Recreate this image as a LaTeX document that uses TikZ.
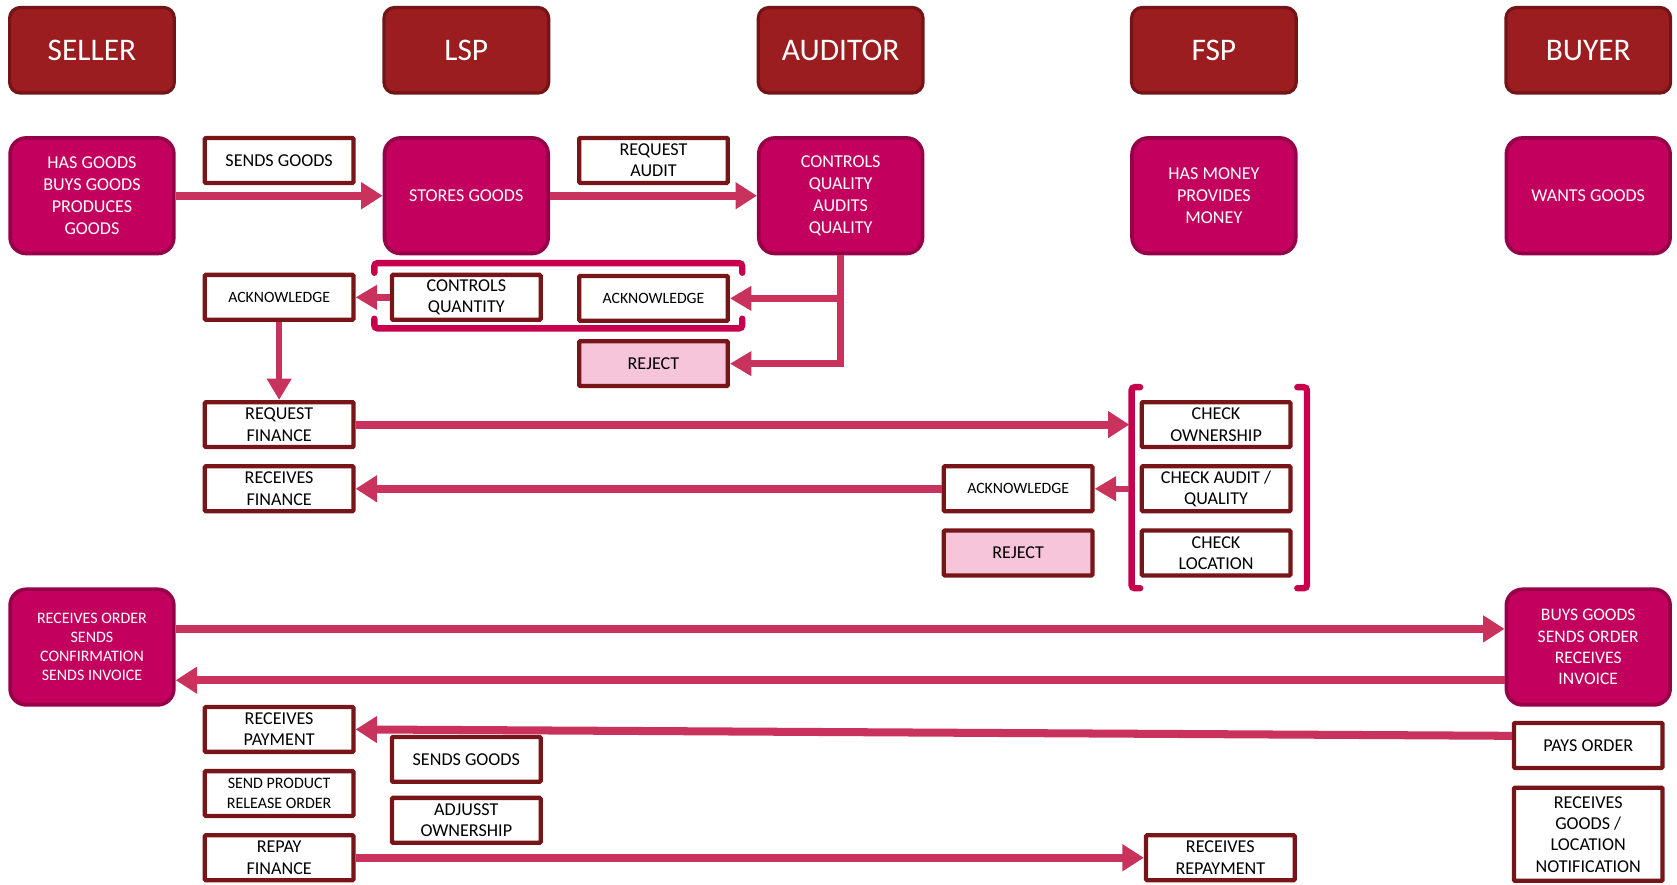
\documentclass[tikz,border=0pt]{standalone}
\usepackage{fontspec}
\setmainfont{Carlito}
\usetikzlibrary{arrows.meta,calc}
\definecolor{hdrfill}{HTML}{9B1D20}
\definecolor{hdrline}{HTML}{731417}
\definecolor{magfill}{HTML}{C4005E}
\definecolor{magline}{HTML}{960048}
\definecolor{lblline}{HTML}{771518}
\definecolor{arrcol}{HTML}{C9325C}
\definecolor{brcol}{HTML}{C6004C}
\definecolor{pinkfill}{HTML}{F6C5DA}
\tikzset{
  header/.style={rounded corners=10bp, fill=hdrfill, draw=hdrline, line width=3bp,
    minimum width=154bp, minimum height=80bp, text=white, font=\fontsize{29.5}{32}\selectfont},
  role/.style={rounded corners=15bp, fill=magfill, draw=magline, line width=3.5bp,
    minimum width=153bp, minimum height=108bp, text=white, align=center,
    font=\fontsize{17}{20.5}\selectfont, inner sep=2bp},
  lbl/.style={draw=lblline, line width=4bp, fill=white, minimum width=139bp,
    minimum height=42bp, align=center, font=\fontsize{17}{20}\selectfont,
    rounded corners=1bp, inner sep=1bp},
  rejbox/.style={lbl, fill=pinkfill},
  arr/.style={draw=arrcol, line width=7.5bp, -{Triangle[length=20bp,width=24bp]}},
  arrt/.style={draw=arrcol, line width=6bp, -{Triangle[length=20bp,width=22bp]}},
  brk/.style={draw=brcol, line width=6bp, line cap=round, rounded corners=3bp},
}
\begin{document}
\begin{tikzpicture}[x=1bp,y=-1bp]
\useasboundingbox (0,0) rectangle (1568,827);
% headers
\node[header] (seller) at (86,47) {SELLER};
\node[header] (lsp) at (436,47) {LSP};
\node[header] (auditor) at (786,47) {AUDITOR};
\node[header] (fsp) at (1135,47) {FSP};
\node[header] (buyer) at (1485,47) {BUYER};
% roles
\node[role] (hasgoods) at (86,183) {HAS GOODS\\BUYS GOODS\\PRODUCES\\GOODS};
\node[role] (stores) at (436,183) {STORES GOODS};
\node[role] (ctrlq) at (786,183) {CONTROLS\\QUALITY\\AUDITS\\QUALITY};
\node[role] (hasmoney) at (1135,183) {HAS MONEY\\PROVIDES\\MONEY};
\node[role] (wants) at (1485,183) {WANTS GOODS};
% labels row 1
\node[lbl] (sendsgoods) at (261,150) {SENDS GOODS};
\node[lbl] (reqaudit) at (611,150) {REQUEST\\AUDIT};
\draw[arr] (hasgoods.east) -- (stores.west);
\draw[arr] (stores.east) -- (ctrlq.west);
% audit bracket
\draw[brk] (350,255) -- (350,246) -- (694,246) -- (694,255);
\draw[brk] (350,298) -- (350,307) -- (694,307) -- (694,298);
\node[lbl] (ack1) at (261,278) {\fontsize{14.8}{17}\selectfont ACKNOWLEDGE};
\node[lbl] (ctrlqty) at (436,278) {CONTROLS\\QUANTITY};
\node[lbl] (ack2) at (611,279) {\fontsize{14.8}{17}\selectfont ACKNOWLEDGE};
\node[rejbox] (rej1) at (611,340) {REJECT};
\draw[arrt] (ctrlqty.west) -- (ack1.east);
\draw[arrt] (ctrlq.south) |- (rej1.east);
\draw[arrt] (ctrlq.south |- ack2.east) -- (ack2.east);
% finance
\node[lbl] (reqfin) at (261,397) {REQUEST\\FINANCE};
\node[lbl] (recfin) at (261,457) {RECEIVES\\FINANCE};
\draw[arrt] (ack1.south) -- (reqfin.north);
\draw[brk] (1066,362) -- (1058,362) -- (1058,550) -- (1066,550);
\draw[brk] (1213,362) -- (1222,362) -- (1222,550) -- (1213,550);
\coordinate (brL) at (1056,397);
\node[lbl] (chkown) at (1137,397) {CHECK\\OWNERSHIP};
\node[lbl] (chkaud) at (1137,457) {CHECK AUDIT /\\QUALITY};
\node[lbl] (chkloc) at (1137,517) {CHECK\\LOCATION};
\node[lbl] (ackf) at (952,457) {\fontsize{14.8}{17}\selectfont ACKNOWLEDGE};
\node[rejbox] (rejf) at (952,517) {REJECT};
\draw[arr] (reqfin.east) -- (reqfin.east -| brL);
\draw[arrt] (brL |- ackf.east) -- (ackf.east);
\draw[arr] (ackf.west) -- (recfin.east);
% orders
\node[role, font=\fontsize{15}{18}\selectfont] (recorder) at (86,605) {RECEIVES ORDER\\SENDS\\CONFIRMATION\\SENDS INVOICE};
\node[role, font=\fontsize{16.5}{20}\selectfont] (buys) at (1485,605) {BUYS GOODS\\SENDS ORDER\\RECEIVES\\INVOICE};
\draw[arr] ($(recorder.east)+(0,-17)$) -- ($(buys.west)+(0,-17)$);
\draw[arr] ($(buys.west)+(0,31)$) -- ($(recorder.east)+(0,31)$);
\node[lbl] (recpay) at (261,682) {RECEIVES\\PAYMENT};
\node[lbl] (pays) at (1485,697) {PAYS ORDER};
\draw[arr] ($(pays.west)+(0,-9)$) -- (recpay.east);
\node[lbl] (sendsgoods2) at (436,710) {SENDS GOODS};
\node[lbl, font=\fontsize{15}{19}\selectfont] (release) at (261,742) {SEND PRODUCT\\RELEASE ORDER};
\node[lbl] (adjust) at (436,767) {ADJUSST\\OWNERSHIP};
\node[lbl] (repay) at (261,802) {REPAY\\FINANCE};
\node[lbl] (recrepay) at (1141,802) {RECEIVES\\REPAYMENT};
\node[lbl, minimum height=87bp] (recgoods) at (1485,780) {RECEIVES\\GOODS /\\LOCATION\\NOTIFICATION};
\draw[arr] (repay.east) -- (recrepay.west);
\end{tikzpicture}
\end{document}
